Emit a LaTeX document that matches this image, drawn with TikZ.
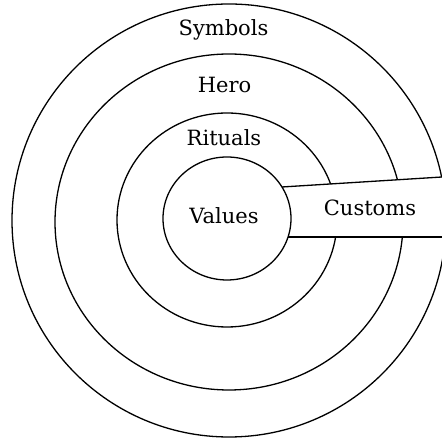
\documentclass[tikz,border=0pt]{standalone}
\usepackage{fontspec}
\setmainfont{DejaVu Serif}
\usetikzlibrary{shapes.geometric}
\tikzset{
  ring/.style={draw=black, line width=1.3pt, ellipse, inner sep=0pt, outer sep=0pt},
  layerlabel/.style={anchor=base, inner sep=0pt, font=\fontsize{21}{25}\selectfont},
  bandline/.style={draw=black, line width=1.3pt}
}
\begin{document}
\begin{tikzpicture}[x=1pt, y=1pt]
\useasboundingbox (0,0) rectangle (442,438);
\clip (0,0) rectangle (442,438);
\fill[white] (0,0) rectangle (442,438);
% rings
\node[ring, minimum width=434pt, minimum height=433pt] (symbolsring) at (229,217.5) {};
\node[ring, minimum width=348pt, minimum height=336pt] (heroring) at (229,216) {};
\node[ring, minimum width=220pt, minimum height=214pt] (ritualsring) at (227,218) {};
% band corners
\coordinate (bandTL) at (282,251);
\coordinate (bandTR) at (442,261);
\coordinate (bandBL) at (288,201);
\coordinate (bandBR) at (442,201);
\fill[white] (bandTL) -- ([xshift=4pt]bandTR) -- ([xshift=4pt]bandBR) -- (bandBL) -- cycle;
\node[ring, minimum width=128pt, minimum height=123pt] (valuesring) at (227,219.5) {};
\draw[bandline] (bandTL) -- (bandTR);
\draw[bandline] (bandBL) -- (bandBR);
% labels
\node[layerlabel] (symbols) at (223.5,402) {Symbols};
\node[layerlabel] (hero) at (224.5,345) {Hero};
\node[layerlabel] (rituals) at (224,292) {Rituals};
\node[layerlabel] (values) at (224,214) {Values};
\node[layerlabel] (customs) at (370,222) {Customs};
\end{tikzpicture}
\end{document}
